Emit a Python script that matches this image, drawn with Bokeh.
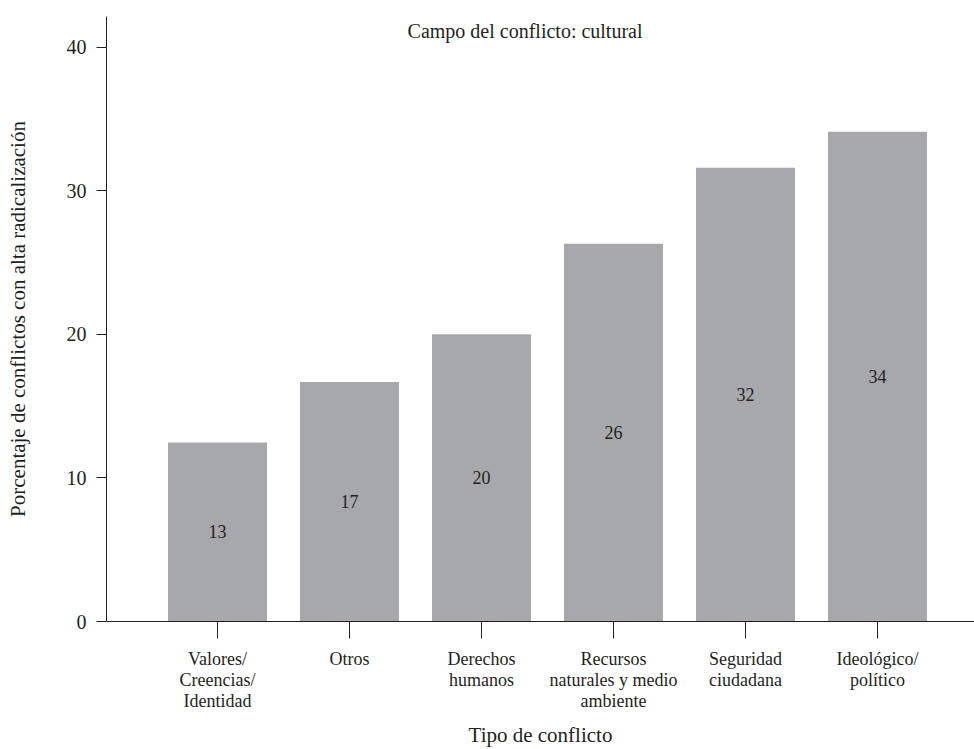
from bokeh.plotting import figure
from bokeh.models import ColumnDataSource, FixedTicker, Range1d, Label, LabelSet
from bokeh.embed import file_html
from bokeh.resources import INLINE
from bokeh.core.properties import value

# ---- data ----
categories = ["Valores/\nCreencias/\nIdentidad", "Otros", "Derechos\nhumanos",
              "Recursos\nnaturales y medio\nambiente", "Seguridad\nciudadana",
              "Ideológico/\npolítico"]
values = [12.47, 16.67, 20.0, 26.3, 31.6, 34.1]
value_labels = ["13", "17", "20", "26", "32", "34"]
y_ticks = [0, 10, 20, 30, 40]
title_text = "Campo del conflicto: cultural"
x_title = "Tipo de conflicto"
y_title = "Porcentaje de conflictos con alta radicalización"

FONT = "Liberation Serif"
TXT = "#231f20"
BAR = "#a7a8ab"

xs = list(range(len(categories)))
src = ColumnDataSource(dict(x=xs, top=values, mid=[v / 2 for v in values], lab=value_labels))

p = figure(width=974, height=749, output_backend="svg", toolbar_location=None,
           x_range=Range1d(-0.841, 5.735), y_range=Range1d(0, 42.13),
           min_border_left=106, min_border_right=0, min_border_top=16, min_border_bottom=128)
p.outline_line_color = None
p.xgrid.visible = False
p.ygrid.visible = False

p.vbar(x="x", top="top", bottom=0, width=0.75, source=src, fill_color=BAR, line_color=None)
p.add_layout(LabelSet(x="x", y="mid", text="lab", source=src, text_align="center",
                      text_baseline="middle", text_font=value(FONT), text_font_size="18px",
                      text_color=TXT))

p.add_layout(Label(x=2.33, y=41.15, text=title_text, text_align="center", text_baseline="middle",
                   text_font=FONT, text_font_size="20px", text_color=TXT))

# x axis
xa = p.xaxis[0]
xa.ticker = FixedTicker(ticks=xs)
xa.major_label_overrides = {i: c for i, c in zip(xs, categories)}
xa.minor_tick_line_color = None
xa.major_tick_out = 17
xa.major_tick_in = 0
xa.axis_line_color = TXT
xa.major_tick_line_color = TXT
xa.major_label_text_font = FONT
xa.major_label_text_font_size = "18px"
xa.major_label_text_line_height = 1.05
xa.major_label_text_color = TXT
xa.major_label_standoff = 10
xa.axis_label = x_title
xa.axis_label_text_font = FONT
xa.axis_label_text_font_size = "21px"
xa.axis_label_text_font_style = "normal"
xa.axis_label_text_color = TXT
xa.axis_label_standoff = 9

# y axis
ya = p.yaxis[0]
ya.ticker = FixedTicker(ticks=y_ticks)
ya.minor_tick_line_color = None
ya.major_tick_out = 10
ya.major_tick_in = 0
ya.axis_line_color = TXT
ya.major_tick_line_color = TXT
ya.major_label_text_font = FONT
ya.major_label_text_font_size = "20px"
ya.major_label_text_color = TXT
ya.major_label_standoff = 10
ya.axis_label = y_title
ya.axis_label_text_font = FONT
ya.axis_label_text_font_size = "21px"
ya.axis_label_text_font_style = "normal"
ya.axis_label_text_color = TXT
ya.axis_label_standoff = 34

open("out.html", "w").write(file_html(p, INLINE))
